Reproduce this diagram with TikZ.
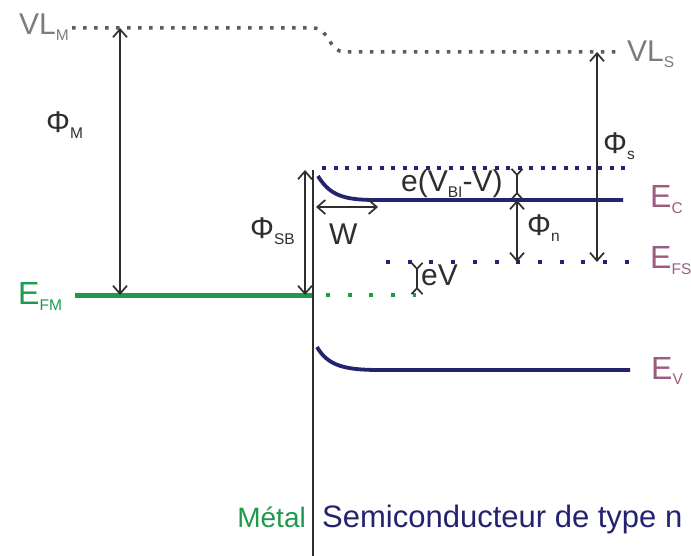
\documentclass[tikz,border=0pt]{standalone}
\usepackage{fontspec}
\setmainfont{Liberation Sans}
\usepackage{xcolor}
\usepackage{tikz}
\usetikzlibrary{arrows.meta}
\definecolor{vacuum}{HTML}{7C7C7C}
\definecolor{metal}{HTML}{1E9A4C}
\definecolor{semi}{HTML}{23236F}
\definecolor{level}{HTML}{9C5C82}
\definecolor{ink}{HTML}{2E2E2E}
\newcommand{\lowsub}[1]{\raisebox{-0.35ex}{\fontsize{15.5}{16}\selectfont #1}}
\tikzset{
	lab/.style={inner sep=0pt, font=\fontsize{30}{32}\selectfont},
	gap/.style={{Straight Barb[length=8pt,width=14pt]}-{Straight Barb[length=8pt,width=14pt]}, line width=1.7pt, ink},
	pinch/.style={{Straight Barb[length=6pt,width=11pt,reversed]}-{Straight Barb[length=6pt,width=11pt,reversed]}, line width=1.7pt, ink},
	vacline/.style={vacuum!75!black, line width=3.5pt, dash pattern=on 3.5pt off 7.5pt},
	dense/.style={semi, line width=4pt, dash pattern=on 4pt off 7.5pt},
	sparse/.style={line width=4pt, dash pattern=on 4pt off 17.7pt},
	band/.style={semi, line width=3.8pt},
}

\begin{document}
\begin{tikzpicture}[x=1pt, y=-1pt]
	\fill[white] (0,0) rectangle (691,556);
	\useasboundingbox (0,0) rectangle (691,556);
	% level end points
	\coordinate (vlm0) at (72,28);
	\coordinate (vlm1) at (313,28);
	\coordinate (vls0) at (345,52);
	\coordinate (vls1) at (621,52);
	\coordinate (efm0) at (75,295);
	\coordinate (efm1) at (313,295);
	\coordinate (efd0) at (326,295);
	\coordinate (efd1) at (416,295);
	\coordinate (efs0) at (386,262);
	\coordinate (efs1) at (629,262);
	\coordinate (ect0) at (322,168);
	\coordinate (ect1) at (631,168);
	\coordinate (ec0) at (318,176);
	\coordinate (ec1) at (376,200);
	\coordinate (ec2) at (623,200);
	\coordinate (ev0) at (317,347);
	\coordinate (ev1) at (380,370);
	\coordinate (ev2) at (630,370);
	\coordinate (ifTop) at (313,170);
	\coordinate (ifBot) at (313,556);
	% arrow ends
	\coordinate (phiMa) at (120,28);
	\coordinate (phiMb) at (120,295);
	\coordinate (phiSBa) at (305,170);
	\coordinate (phiSBb) at (305,295);
	\coordinate (wa) at (316,207);
	\coordinate (wb) at (378,207);
	\coordinate (bia) at (517,168);
	\coordinate (bib) at (517,200);
	\coordinate (phiNb) at (517,262);
	\coordinate (phiSa) at (597,52);
	\coordinate (phiSb) at (597,262);
	\coordinate (eva) at (417,262);
	\coordinate (evb) at (417,295);

	\draw[vacline] (vlm0) -- (vlm1) .. controls (330,28) and (328,52) .. (vls0) -- (vls1);
	\draw[dense] (ect0) -- (ect1);
	\draw[band] (ec0) .. controls (330,196) and (345,200) .. (ec1) -- (ec2);
	\draw[band] (ev0) .. controls (328,366) and (345,370) .. (ev1) -- (ev2);
	\draw[sparse, semi] (efs0) -- (efs1);
	\draw[metal, line width=5pt] (efm0) -- (efm1);
	\draw[sparse, metal] (efd0) -- (efd1);
	\draw[ink, line width=1.9pt] (ifTop) -- (ifBot);

	\draw[gap] (phiMa) -- (phiMb);
	\draw[gap] (phiSBa) -- (phiSBb);
	\draw[gap] (wa) -- (wb);
	\draw[pinch] (bia) -- (bib);
	\draw[gap] (bib) -- (phiNb);
	\draw[gap] (phiSa) -- (phiSb);
	\draw[pinch] (eva) -- (evb);

	\node[lab, vacuum, anchor=base east] (vlmLab) at (69,35) {VL\lowsub{M}};
	\node[lab, vacuum, anchor=base west] (vlsLab) at (627,62) {VL\lowsub{S}};
	\node[lab, ink, anchor=base west] (phiMLab) at (46,133) {Φ\lowsub{M}};
	\node[lab, ink, anchor=base west] (phiSBLab) at (250,239) {Φ\lowsub{SB}};
	\node[lab, ink, anchor=base west] (wLab) at (329,244) {W};
	\node[lab, ink, anchor=base west] (biLab) at (401,192) {e(V\lowsub{BI}-V)};
	\node[lab, ink, anchor=base west] (phiNLab) at (527,236) {Φ\lowsub{n}};
	\node[lab, ink, anchor=base west] (phiSLab) at (603,154) {Φ\lowsub{s}};
	\node[lab, ink, anchor=base west] (evLab) at (421,286) {eV};
	\node[lab, metal, anchor=base west, font=\fontsize{32}{34}\selectfont] (efmLab) at (18,305) {E\lowsub{FM}};
	\node[lab, level, anchor=base west, font=\fontsize{32}{34}\selectfont] (ecLab) at (650,208) {E\lowsub{C}};
	\node[lab, level, anchor=base west, font=\fontsize{32}{34}\selectfont] (efsLab) at (650,269) {E\lowsub{FS}};
	\node[lab, level, anchor=base west, font=\fontsize{32}{34}\selectfont] (evbLab) at (651,379) {E\lowsub{V}};
	\node[lab, metal, anchor=base east, font=\fontsize{28}{30}\selectfont] (metLab) at (306,527) {Métal};
	\node[lab, semi, anchor=base west, font=\fontsize{31}{33}\selectfont] (semLab) at (322,527) {Semiconducteur de type n};
\end{tikzpicture}
\end{document}
